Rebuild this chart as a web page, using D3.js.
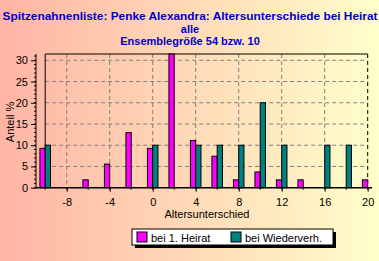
<!doctype html>
<html lang="de">
<head>
<meta charset="UTF-8" />
<script src="https://d3js.org/d3.v7.min.js"></script>
<style>
  body { margin: 0; }
  text { font-family: "Liberation Sans", Arial, sans-serif; }
</style>
</head>
<body>
<div id="chart"></div>
<script>
// Data: age difference categories and share in percent
const categories = [-10, -8, -6, -4, -2, 0, 2, 4, 6, 8, 10, 12, 14, 16, 18, 20]
const firstMarriage = [9.26, 0, 1.85, 5.56, 12.96, 9.26, 31.48, 11.11, 7.41, 1.85, 3.70, 1.85, 1.85, 0, 0, 1.85]
const remarriage = [10, 0, 0, 0, 0, 10, 0, 10, 10, 10, 20, 10, 0, 10, 10, 0]
const seriesNames = ["bei 1. Heirat", "bei Wiederverh."]
const xTicks = [-8, -4, 0, 4, 8, 12, 16, 20]
const yTicks = [0, 5, 10, 15, 20, 25, 30]
const titleLines = ["Spitzenahnenliste: Penke Alexandra: Altersunterschiede bei Heirat", "alle", "Ensemblegröße 54 bzw. 10"]

const W = 379, H = 261
const colors = ["#ff00ff", "#008080"]

const svg = d3.select("#chart").append("svg")
  .attr("width", W).attr("height", H)

// background gradient
const grad = svg.append("defs").append("linearGradient")
  .attr("id", "bg").attr("x1", 0).attr("x2", 1).attr("y1", 0).attr("y2", 0)
grad.append("stop").attr("offset", "0%").attr("stop-color", "#ffb4a4")
grad.append("stop").attr("offset", "100%").attr("stop-color", "#ffffca")
svg.append("rect").attr("width", W).attr("height", H).attr("fill", "url(#bg)")

// title
const titleY = [19.5, 32.5, 45]
svg.selectAll(".title").data(titleLines).join("text")
  .attr("class", "title")
  .attr("x", 190).attr("y", (d, i) => titleY[i])
  .attr("text-anchor", "middle")
  .attr("font-size", "11px").attr("font-weight", "bold")
  .attr("fill", "#0000cc")
  .each(function (d, i) {
    if (i === 0) d3.select(this).attr("textLength", 375).attr("lengthAdjust", "spacingAndGlyphs")
  })
  .text(d => d)

// scales
const x = d3.scaleLinear().domain([-10, 20]).range([45.2, 367.7])
const y = d3.scaleLinear().domain([0, d3.max(firstMarriage)]).range([187.7, 54])
const barW = x(0.49) - x(0)

// grid
const grid = svg.append("g").attr("stroke", "#808080").attr("stroke-dasharray", "4,3")
grid.selectAll(".hg").data(yTicks.filter(d => d > 0)).join("line")
  .attr("x1", x(-10)).attr("x2", x(20))
  .attr("y1", d => y(d)).attr("y2", d => y(d))
grid.selectAll(".vg").data(xTicks.filter(d => d < 20)).join("line")
  .attr("x1", d => x(d)).attr("x2", d => x(d))
  .attr("y1", y.range()[1]).attr("y2", y(0))

// frame
svg.append("path")
  .attr("d", `M${x(-10)},${y(0)}V${y.range()[1]}H${x(20)}`)
  .attr("fill", "none").attr("stroke", "#000")
svg.append("line")
  .attr("x1", x(20)).attr("x2", x(20)).attr("y1", y.range()[1]).attr("y2", y(0))
  .attr("stroke", "#000").attr("stroke-dasharray", "4,3")

// bars
const series = [firstMarriage, remarriage]
series.forEach((vals, s) => {
  svg.append("g").selectAll("rect")
    .data(categories.map((c, i) => ({ c, v: vals[i] })).filter(d => d.v > 0 && d.c + s * 0.5 <= 20))
    .join("rect")
    .attr("x", d => s === 0 ? x(d.c) - barW : x(d.c))
    .attr("y", d => y(d.v))
    .attr("width", barW)
    .attr("height", d => y(0) - y(d.v))
    .attr("fill", colors[s])
    .attr("stroke", "#000").attr("stroke-width", 1)
})

// axes
const yAxis = svg.append("g").attr("transform", "translate(36,0)")
  .call(d3.axisLeft(y).tickValues(yTicks).tickSize(5).tickPadding(3))
yAxis.append("g").selectAll("line").data(d3.range(0, 32, 1)).join("line")
  .attr("x1", 0).attr("x2", -2).attr("y1", d => y(d)).attr("y2", d => y(d)).attr("stroke", "#000")
yAxis.select(".domain").attr("d", `M0,${y(0)}V${y.range()[1]}`)

const xAxis = svg.append("g").attr("transform", `translate(0,${y(0)})`)
  .call(d3.axisBottom(x).tickValues(xTicks).tickSize(4).tickPadding(7).tickFormat(d3.format("d")))
xAxis.select(".domain").attr("d", `M36,0H372`).attr("stroke-width", 1.5)
xAxis.append("g").selectAll("line").data(categories).join("line")
  .attr("x1", d => x(d)).attr("x2", d => x(d)).attr("y1", 0).attr("y2", 2).attr("stroke", "#000")

svg.selectAll(".tick text").attr("font-size", "11px").attr("font-family", "Liberation Sans, Arial, sans-serif")
  .text(function () { return d3.select(this).text().replace("−", "-") })

// axis titles
svg.append("text")
  .attr("transform", "translate(14,122) rotate(-90)")
  .attr("text-anchor", "middle").attr("font-size", "11px")
  .text("Anteil %")
svg.append("text")
  .attr("x", 207).attr("y", 218)
  .attr("text-anchor", "middle").attr("font-size", "11px")
  .text("Altersunterschied")

// legend
const lg = svg.append("g").attr("transform", "translate(132,229)")
lg.append("rect").attr("x", 3).attr("y", 3).attr("width", 201).attr("height", 16).attr("fill", "#000")
lg.append("rect").attr("width", 201).attr("height", 16).attr("fill", "#fff").attr("stroke", "#000")
const items = lg.selectAll(".item").data(seriesNames).join("g")
  .attr("transform", (d, i) => `translate(${5 + i * 94},3)`)
items.append("rect").attr("width", 10).attr("height", 10)
  .attr("fill", (d, i) => colors[i]).attr("stroke", "#000")
items.append("text").attr("x", 14).attr("y", 9.5).attr("font-size", "11px").text(d => d)
</script>
</body>
</html>
